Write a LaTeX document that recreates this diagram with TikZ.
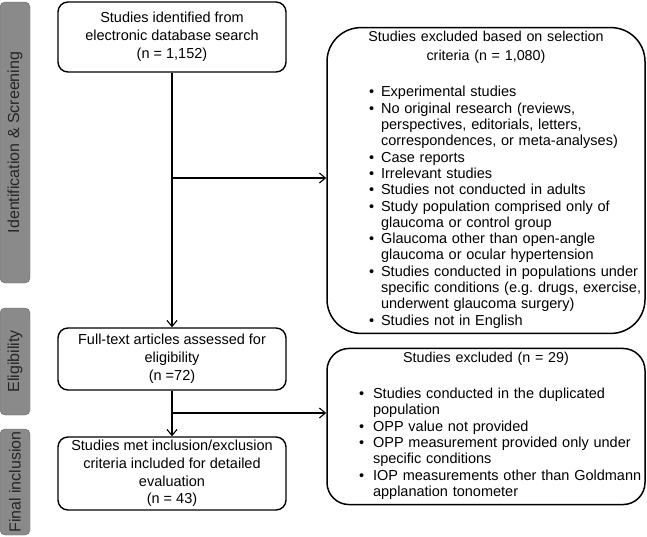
\documentclass[tikz,border=0pt]{standalone}
\usepackage{fontspec}
\setmainfont{Liberation Sans}
\usetikzlibrary{arrows.meta}
\definecolor{bargray}{HTML}{8A8A8A}
\begin{document}
\frenchspacing
\begin{tikzpicture}[x=1pt,y=-1pt,
    every node/.style = {align=center, font=\fontsize{14.5}{17.8}\selectfont},
    phase/.style = {draw=bargray!75!black, fill=bargray, rounded corners=5pt, text=black!85,
        rotate=90, minimum height=30pt, inner sep=0pt, font=\fontsize{16}{18}\selectfont},
    stepbox/.style = {draw, line width=1.4pt, rounded corners=10pt, minimum width=228pt, inner sep=2pt},
    exclbox/.style = {draw, line width=1.5pt, minimum width=318pt, align=left,
        font=\fontsize{14.3}{16.3}\selectfont},
    arr/.style = {-{Straight Barb[length=6pt,width=10pt]}, line width=1.1pt}]
    \useasboundingbox (0,0) rectangle (647,536);
    % phases
    \node[phase, minimum width=281pt] (screen) at (15,142.5) {Identification \& Screening};
    \node[phase, minimum width=107pt] (elig) at (15,361.5) {Eligibility};
    \node[phase, minimum width=106pt] (final) at (15,482) {Final inclusion};
    % main boxes
    \node[stepbox, minimum height=70pt] (ident) at (172,37) {Studies identified from\\electronic database search\\(n = 1,152)};
    \node[stepbox, minimum height=62pt] (full) at (172,359) {Full-text articles assessed for\\eligibility\\(n =72)};
    \node[stepbox, minimum height=73pt] (incl) at (172,473.5) {Studies met inclusion/exclusion\\criteria included for detailed\\evaluation\\(n = 43)};
    % excluded
    \node[exclbox, rounded corners=34pt, minimum height=301pt, inner xsep=42pt, text width=234pt] (excl1) at (486,180.5) {%
        \vspace*{3pt}{\centering\makebox[\linewidth]{Studies excluded based on selection}\\criteria (n = 1,080)\par}
        \vspace{21pt}\noindent
        \fontsize{14.5}{16.3}\selectfont
        \begin{tabular}{@{}l@{\hspace{7pt}}l@{}}
        \textbullet & Experimental studies\\
        \textbullet & No original research (reviews,\\
            & perspectives, editorials, letters,\\
            & correspondences, or meta-analyses)\\
        \textbullet & Case reports\\
        \textbullet & Irrelevant studies\\
        \textbullet & Studies not conducted in adults\\
        \textbullet & Study population comprised only of\\
            & glaucoma or control group\\
        \textbullet & Glaucoma other than open-angle\\
            & glaucoma or ocular hypertension\\
        \textbullet & Studies conducted in populations under\\
            & specific conditions (e.g. drugs, exercise,\\
            & underwent glaucoma surgery)\\
        \textbullet & Studies not in English
        \end{tabular}};
    \node[exclbox, rounded corners=22pt, minimum height=153pt, inner xsep=32pt, text width=254pt] (excl2) at (486,426.5) {%
        \vspace*{9pt}{\centering Studies excluded (n = 29)\par}
        \vspace{12pt}\noindent
        \fontsize{14.5}{16.3}\selectfont
        \begin{tabular}{@{}l@{\hspace{9pt}}l@{}}
        \textbullet & Studies conducted in the duplicated\\
            & population\\
        \textbullet & OPP value not provided\\
        \textbullet & OPP measurement provided only under\\
            & specific conditions\\
        \textbullet & IOP measurements other than Goldmann\\
            & applanation tonometer
        \end{tabular}};
    % flow
    \coordinate (b1) at (172,178);
    \coordinate (b2) at (172,413);
    \draw[arr] (ident) -- (full);
    \draw[arr] (full) -- (incl);
    \draw[arr] (b1) -- (b1 -| excl1.west);
    \draw[arr] (b2) -- (b2 -| excl2.west);
\end{tikzpicture}
\end{document}
